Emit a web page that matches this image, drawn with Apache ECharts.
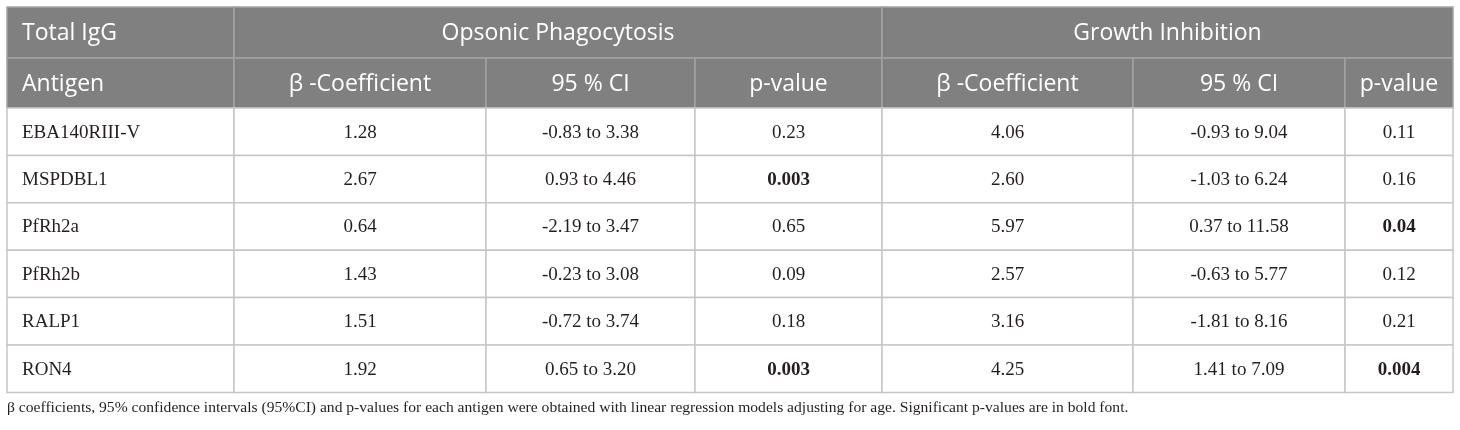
<!doctype html>
<html>
<head>
    <meta charset="UTF-8">
    <title>Total IgG regression table</title>
    <script src="https://cdn.jsdelivr.net/npm/echarts@6/dist/echarts.min.js"></script>
    <style>
        html, body { margin: 0; padding: 0; background: #fff; }
    </style>
</head>
<body>
<div id="main" style="width: 1460px;height:430px;"></div>
<script>
    // table content
    var groupHeads = ['Total IgG', 'Opsonic Phagocytosis', 'Growth Inhibition'];
    var colHeads = ['Antigen', 'β -Coefficient', '95 % CI', 'p-value', 'β -Coefficient', '95 % CI', 'p-value'];
    var antigens = ['EBA140RIII-V', 'MSPDBL1', 'PfRh2a', 'PfRh2b', 'RALP1', 'RON4'];
    var opBeta = ['1.28', '2.67', '0.64', '1.43', '1.51', '1.92'];
    var opCI = ['-0.83 to 3.38', '0.93 to 4.46', '-2.19 to 3.47', '-0.23 to 3.08', '-0.72 to 3.74', '0.65 to 3.20'];
    var opP = ['0.23', '0.003', '0.65', '0.09', '0.18', '0.003'];
    var giBeta = ['4.06', '2.60', '5.97', '2.57', '3.16', '4.25'];
    var giCI = ['-0.93 to 9.04', '-1.03 to 6.24', '0.37 to 11.58', '-0.63 to 5.77', '-1.81 to 8.16', '1.41 to 7.09'];
    var giP = ['0.11', '0.16', '0.04', '0.12', '0.21', '0.004'];
    var footnote = 'β coefficients, 95% confidence intervals (95%CI) and p-values for each antigen were obtained with linear regression models adjusting for age. Significant p-values are in bold font.';

    // layout (axis units == pixels)
    var colWidths = [227, 252, 209, 187, 251, 212, 108];
    var headHeights = [51, 50];
    var bodyHeight = 47.4;

    var colEdges = [0];
    colWidths.forEach(function (w, i) { colEdges.push(colEdges[i] + w); });
    var rowEdges = [0];
    var rowHeights = headHeights.concat(antigens.map(function () { return bodyHeight; }));
    rowHeights.forEach(function (h, i) { rowEdges.push(rowEdges[i] + h); });

    var cells = [];
    // group header row
    cells.push({c0: 0, c1: 1, r: 0, text: groupHeads[0], head: true, left: true});
    cells.push({c0: 1, c1: 4, r: 0, text: groupHeads[1], head: true});
    cells.push({c0: 4, c1: 7, r: 0, text: groupHeads[2], head: true});
    colHeads.forEach(function (t, i) {
        cells.push({c0: i, c1: i + 1, r: 1, text: t, head: true, left: i === 0});
    });
    antigens.forEach(function (a, i) {
        var row = [a, opBeta[i], opCI[i], opP[i], giBeta[i], giCI[i], giP[i]];
        row.forEach(function (t, j) {
            var sig = (j === 3 || j === 6) && parseFloat(t) < 0.05;
            cells.push({c0: j, c1: j + 1, r: i + 2, text: t, left: j === 0, bold: sig});
        });
    });

    var myChart = echarts.init(document.getElementById('main'));
    var option = {
        animation: false,
        title: {
            text: footnote,
            left: 7,
            top: 400,
            padding: 0,
            textStyle: {
                fontFamily: 'Liberation Serif',
                fontSize: 15.6,
                fontWeight: 'normal',
                color: '#231f20'
            }
        },
        grid: {left: 7, top: 7, width: colEdges[7], height: rowEdges[rowEdges.length - 1]},
        xAxis: {type: 'value', min: 0, max: colEdges[7], show: false},
        yAxis: {type: 'value', min: 0, max: rowEdges[rowEdges.length - 1], inverse: true, show: false},
        series: [{
            type: 'custom',
            coordinateSystem: 'cartesian2d',
            silent: true,
            data: cells.map(function (c) {
                return [colEdges[c.c0], rowEdges[c.r], colEdges[c.c1], rowEdges[c.r + 1]];
            }),
            renderItem: function (params, api) {
                var c = cells[params.dataIndex];
                var p0 = api.coord([api.value(0), api.value(1)]);
                var p1 = api.coord([api.value(2), api.value(3)]);
                var w = p1[0] - p0[0], h = p1[1] - p0[1];
                return {
                    type: 'group',
                    children: [{
                        type: 'rect',
                        shape: {x: p0[0], y: p0[1], width: w, height: h},
                        style: {
                            fill: c.head ? '#7f807f' : '#ffffff',
                            stroke: c.head ? '#a3a3a3' : '#c6c6c6',
                            lineWidth: 1.5
                        }
                    }, {
                        type: 'text',
                        x: c.left ? p0[0] + 15 : p0[0] + w / 2,
                        y: p0[1] + h / 2 + 1,
                        style: {
                            text: c.text,
                            textAlign: c.left ? 'left' : 'center',
                            textVerticalAlign: 'middle',
                            fontFamily: c.head ? 'Open Sans' : 'Liberation Serif',
                            fontSize: c.head ? 23 : 19,
                            fontWeight: c.bold ? 'bold' : 'normal',
                            fill: c.head ? '#ffffff' : '#231f20'
                        }
                    }]
                };
            }
        }]
    };
    myChart.setOption(option);
</script>
</body>
</html>
